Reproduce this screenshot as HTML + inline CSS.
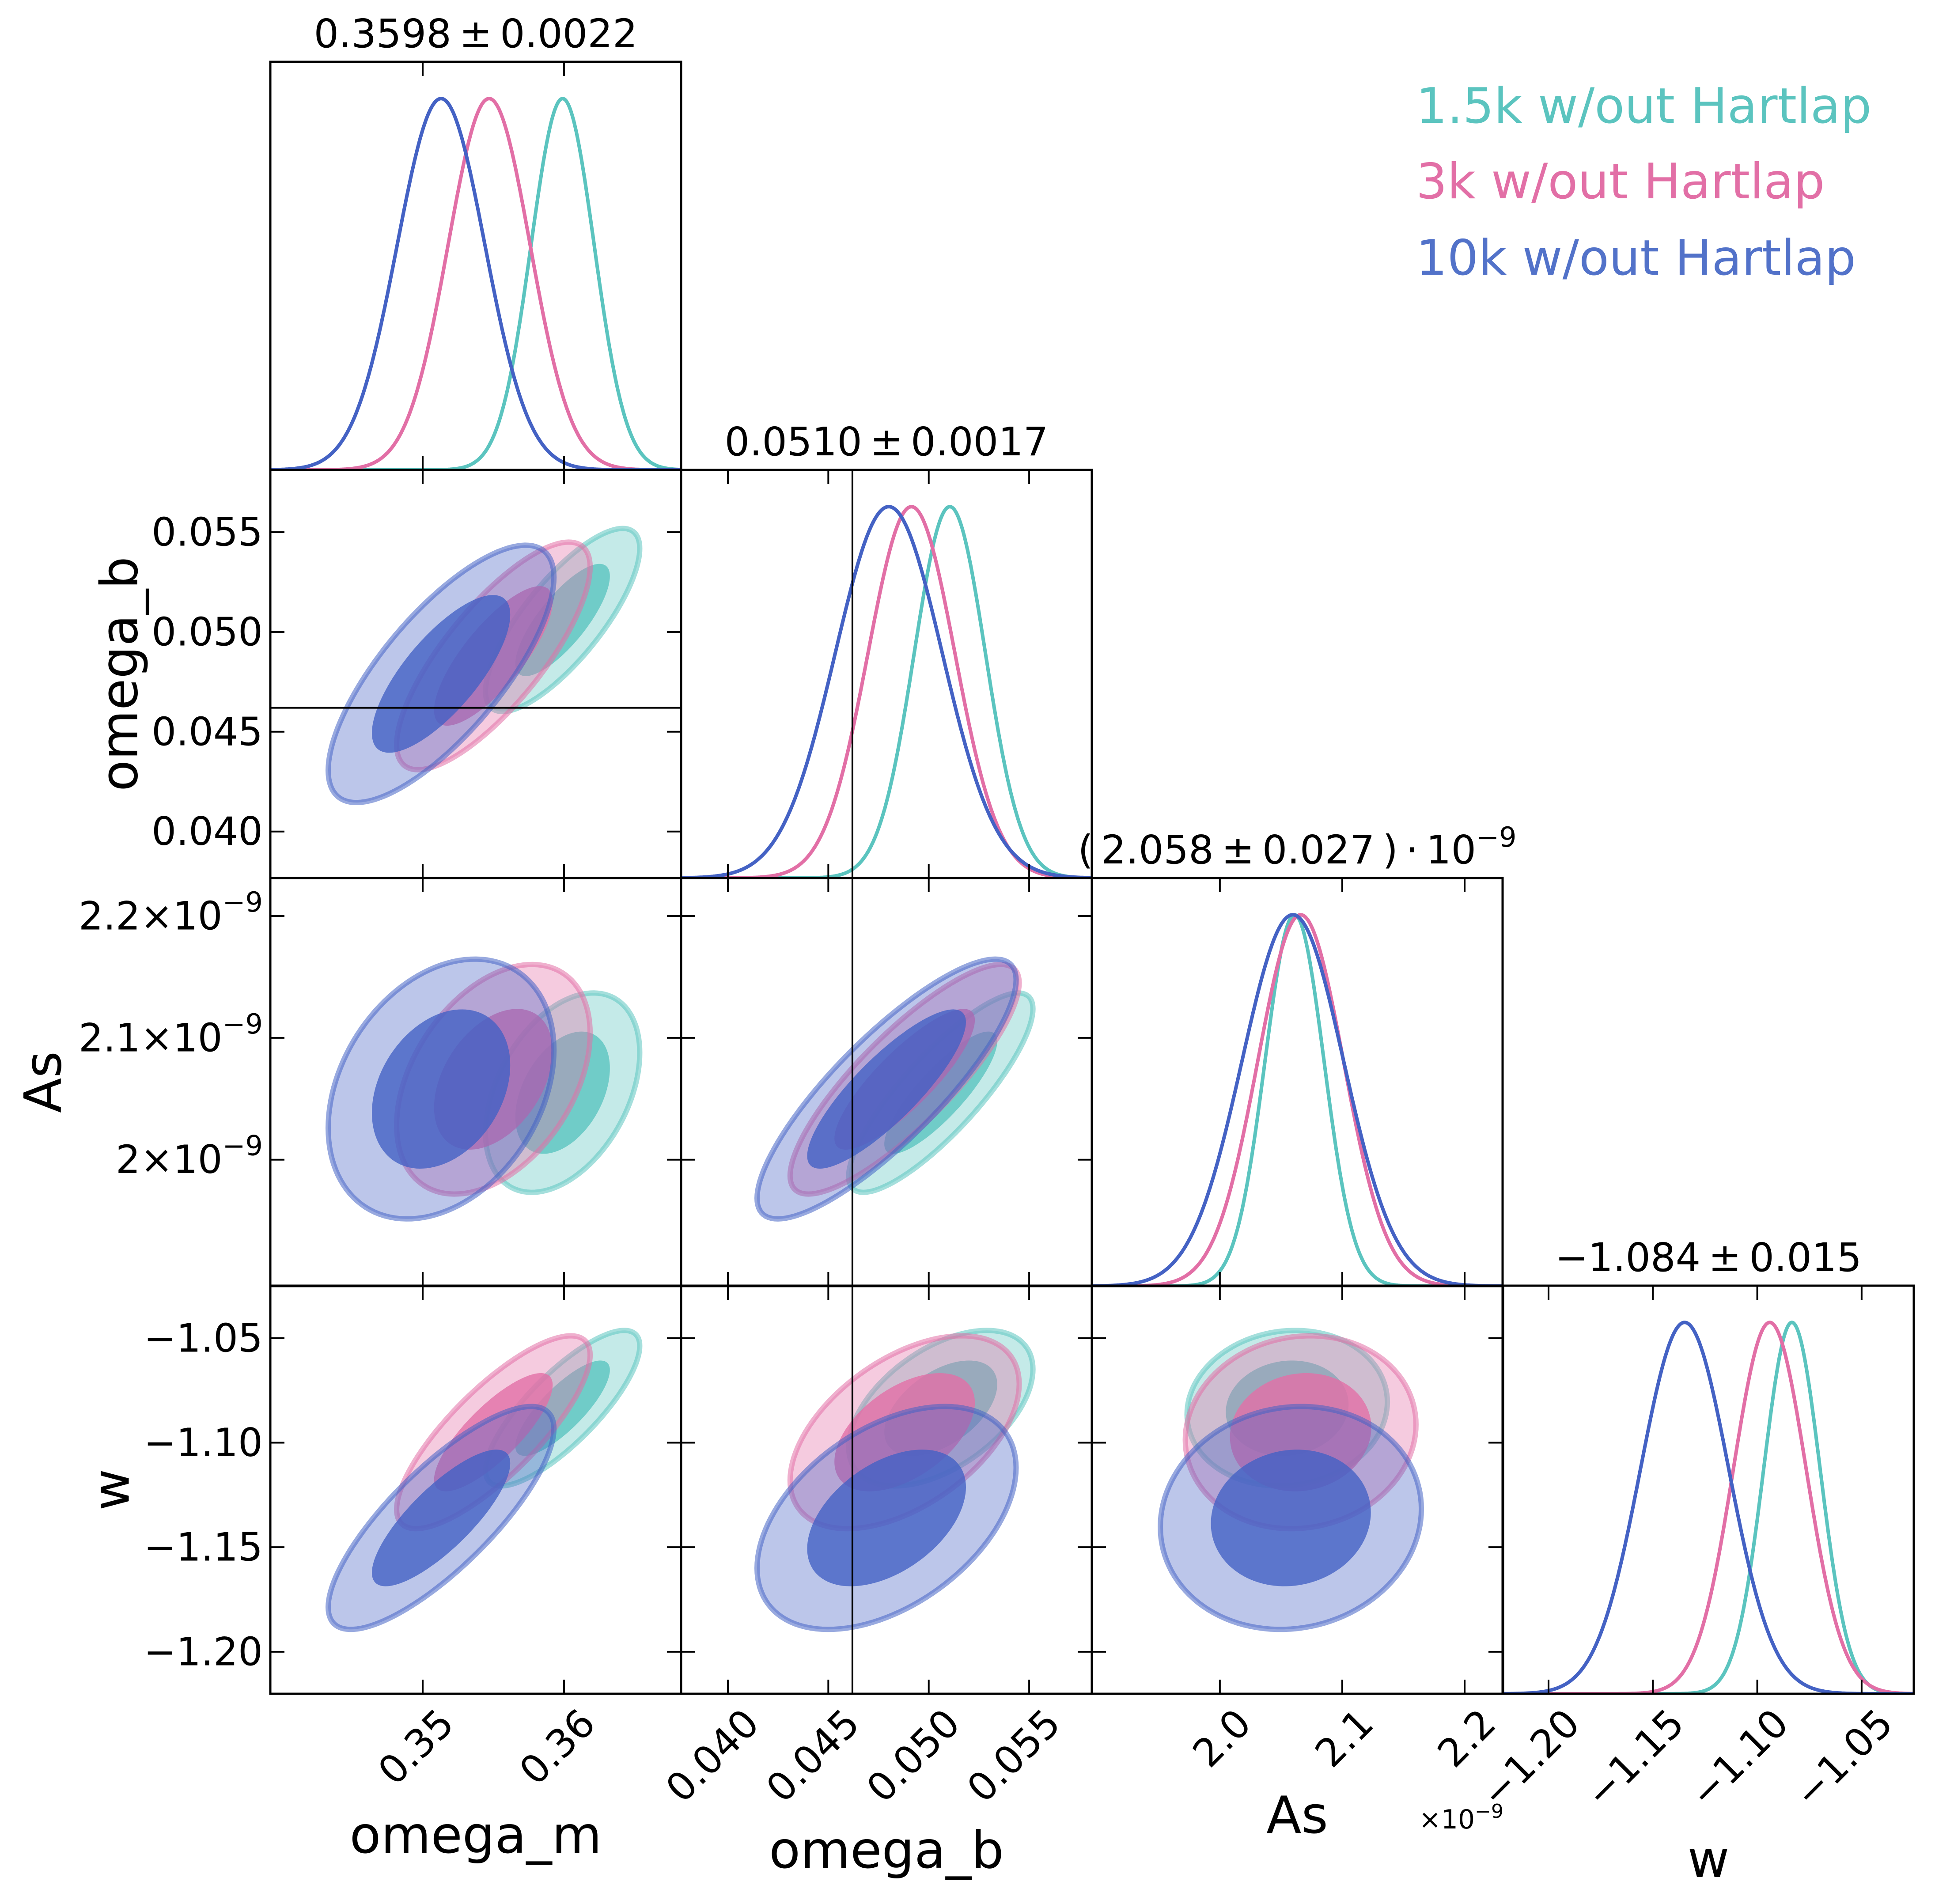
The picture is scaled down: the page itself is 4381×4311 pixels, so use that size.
<!DOCTYPE html>
<html><head><meta charset="utf-8"><title>Triangle plot</title>
<style>html,body{margin:0;padding:0;background:#fff}svg{display:block}text{font-family:"DejaVu Sans","Liberation Sans",sans-serif;fill:#000}</style>
</head><body>
<svg id="chart" xmlns="http://www.w3.org/2000/svg" width="4381" height="4311" viewBox="0 0 4381 4311">
<rect x="0" y="0" width="4381" height="4311" fill="#fff"/>
<g id="panels"></g>
<g id="labels"></g>
<g id="legend">
<text x="3206" y="278" font-size="111" style="fill:#5bc4bf">1.5k w/out Hartlap</text>
<text x="3206" y="449" font-size="111" style="fill:#e26fa6">3k w/out Hartlap</text>
<text x="3206" y="622" font-size="111" style="fill:#5272c9">10k w/out Hartlap</text>
</g>
</svg>
<script>
// ---- data ----
const params = ['omega_m', 'omega_b', 'As', 'w'];
const seriesNames = ['1.5k w/out Hartlap', '3k w/out Hartlap', '10k w/out Hartlap'];
const mean1dTeal = [0.3599, 0.05105, 2.061, -1.0834];
const mean1dPink = [0.3547, 0.04914, 2.066, -1.0940];
const mean1dBlue = [0.3513, 0.04801, 2.0596, -1.1348];
const sigma1dTeal = [0.00223, 0.00177, 0.0241, 0.0135];
const sigma1dPink = [0.0029, 0.00216, 0.035, 0.0174];
const sigma1dBlue = [0.0031, 0.00266, 0.0415, 0.0211];
const mean2dTeal = [0.3599, 0.0506, 2.055, -1.0835];
const mean2dPink = [0.3550, 0.0488, 2.066, -1.095];
const mean2dBlue = [0.3513, 0.0479, 2.058, -1.136];
const sigma2dTeal = [0.0022, 0.00185, 0.033, 0.0150];
const sigma2dPink = [0.00276, 0.0023, 0.038, 0.0186];
const sigma2dBlue = [0.00322, 0.0026, 0.043, 0.0215];
// correlations for pairs (1,0),(2,0),(2,1),(3,0),(3,1),(3,2)
const corrTeal = [0.78, 0.4, 0.84, 0.8, 0.5, 0.08];
const corrPink = [0.78, 0.4, 0.84, 0.8, 0.5, 0.08];
const corrBlue = [0.75, 0.3, 0.84, 0.8, 0.45, 0.08];
const xTickValues = [[0.35, 0.36], [0.040, 0.045, 0.050, 0.055], [2.0, 2.1, 2.2], [-1.20, -1.15, -1.10, -1.05]];
const xTickLabels = [['0.35', '0.36'], ['0.040', '0.045', '0.050', '0.055'], ['2.0', '2.1', '2.2'], ['\u22121.20', '\u22121.15', '\u22121.10', '\u22121.05']];
const yTickLabels = [['0.035', '0.040', '0.045', '0.050', '0.055'], ['2\u00d710', '2.1\u00d710', '2.2\u00d710'], ['\u22121.20', '\u22121.15', '\u22121.10', '\u22121.05']];
const titles = ['0.3598\u2009\u00b1\u20090.0022', '0.0510\u2009\u00b1\u20090.0017', '(\u20092.058\u2009\u00b1\u20090.027\u2009)\u2009\u00b7\u200910', '\u22121.084\u2009\u00b1\u20090.015'];
const refOmegaB = [0.0462];

// ---- layout ----
const colors = ['#5bc4bf', '#e26fa6', '#4462c4'];
const limsX = [[0.33922, 0.36828], [0.03767, 0.05812], [1.8954, 2.231], [-1.2218, -1.0250]];
const limsY = [[0.33922, 0.36828], [0.03767, 0.05812], [1.8962, 2.2312], [-1.2201, -1.0249]];
const colX = [612, 1542, 2472, 3403];
const rowY = [140, 1064, 1988, 2911];
const PW = 930, PH = 924;
const NS = 'http://www.w3.org/2000/svg';
const means1d = [mean1dTeal, mean1dPink, mean1dBlue];
const sig1d = [sigma1dTeal, sigma1dPink, sigma1dBlue];
const means2d = [mean2dTeal, mean2dPink, mean2dBlue];
const sig2d = [sigma2dTeal, sigma2dPink, sigma2dBlue];
const corrs = [corrTeal, corrPink, corrBlue];
const pairIndex = {'1,0': 0, '2,0': 1, '2,1': 2, '3,0': 3, '3,1': 4, '3,2': 5};

function sx(i, v) { return colX[i] + (v - limsX[i][0]) / (limsX[i][1] - limsX[i][0]) * PW; }
function sy(j, v) { return rowY[j] + PH - (v - limsY[j][0]) / (limsY[j][1] - limsY[j][0]) * PH; }
function mk(tag, attrs, parent) {
  const e = document.createElementNS(NS, tag);
  for (const k in attrs) e.setAttribute(k, attrs[k]);
  parent.appendChild(e);
  return e;
}
const panelsG = document.getElementById('panels');
const labelsG = document.getElementById('labels');
const defs = mk('defs', {}, panelsG);

for (let j = 0; j < 4; j++) {
  for (let i = 0; i <= j; i++) {
    const g = mk('g', {}, panelsG);
    
    
    const cp = mk('clipPath', {id: 'cp' + j + i}, defs);
    mk('rect', {x: colX[i], y: rowY[j], width: PW, height: PH}, cp);
    const inner = mk('g', {'clip-path': 'url(#cp' + j + i + ')'}, g);
    if (i === j) {
      for (let s = 0; s < 3; s++) {
        let d = '';
        for (let k = 0; k <= 400; k++) {
          const v = limsX[i][0] + (limsX[i][1] - limsX[i][0]) * k / 400;
          const z = (v - means1d[s][i]) / sig1d[s][i];
          const y = rowY[j] + PH - 0.91 * PH * Math.exp(-0.5 * z * z);
          d += (k ? 'L' : 'M') + sx(i, v).toFixed(1) + ',' + y.toFixed(1);
        }
        const p = mk('path', {d: d, fill: 'none', stroke: colors[s], 'stroke-width': 8}, inner);
        
        
      }
    } else {
      const pi = pairIndex[j + ',' + i];
      for (let s = 0; s < 3; s++) {
        const rho = corrs[s][pi];
        const radii = [2.48, 1.52];
        for (let r = 0; r < 2; r++) {
          let d = '';
          for (let k = 0; k <= 120; k++) {
            const t = 2 * Math.PI * k / 120;
            const u = Math.cos(t), w = Math.sin(t);
            const vx = means2d[s][i] + sig2d[s][i] * radii[r] * u;
            const vy = means2d[s][j] + sig2d[s][j] * radii[r] * (rho * u + Math.sqrt(1 - rho * rho) * w);
            d += (k ? 'L' : 'M') + sx(i, vx).toFixed(1) + ',' + sy(j, vy).toFixed(1);
          }
          d += 'Z';
          const p = mk('path', r === 0 ?
            {d: d, fill: colors[s], 'fill-opacity': 0.36, stroke: colors[s], 'stroke-opacity': 0.55, 'stroke-width': 12} :
            {d: d, fill: colors[s], 'fill-opacity': 0.8, stroke: 'none'}, inner);
          
          
        }
      }
    }
    if (i === 1) {
      const x = sx(1, refOmegaB[0]);
      const l = mk('line', {x1: x, y1: rowY[j], x2: x, y2: rowY[j] + PH, stroke: '#000', 'stroke-width': 4}, g);
      
      
    }
    if (j === 1 && i === 0) {
      const y = sy(1, refOmegaB[0]);
      const l = mk('line', {x1: colX[0], y1: y, x2: colX[0] + PW, y2: y, stroke: '#000', 'stroke-width': 4}, g);
      
      
    }
    xTickValues[i].forEach(v => {
      const x = sx(i, v);
      mk('line', {x1: x, y1: rowY[j] + PH, x2: x, y2: rowY[j] + PH - 32, stroke: '#000', 'stroke-width': 4}, g);
      mk('line', {x1: x, y1: rowY[j], x2: x, y2: rowY[j] + 32, stroke: '#000', 'stroke-width': 4}, g);
    });
    if (i !== j) {
      xTickValues[j].forEach(v => {
        const y = sy(j, v);
        if (y < rowY[j] || y > rowY[j] + PH) return;
        mk('line', {x1: colX[i], y1: y, x2: colX[i] + 32, y2: y, stroke: '#000', 'stroke-width': 4}, g);
        mk('line', {x1: colX[i] + PW, y1: y, x2: colX[i] + PW - 32, y2: y, stroke: '#000', 'stroke-width': 4}, g);
      });
    }
    const fr = mk('rect', {x: colX[i], y: rowY[j], width: PW, height: PH, fill: 'none', stroke: '#000', 'stroke-width': 5}, g);
    
    
  }
}

for (let i = 0; i < 4; i++) {
  const t = mk('text', {x: colX[i] + PW / 2, y: rowY[i] - 33, 'text-anchor': 'middle', 'font-size': 89}, labelsG);
  t.textContent = titles[i];
  if (i === 2) {
    const sp = mk('tspan', {'font-size': 62, dy: -38}, t);
    sp.textContent = '\u22129';
  }
  
  
}
for (let i = 0; i < 4; i++) {
  xTickValues[i].forEach((v, k) => {
    const x = sx(i, v) + 54, y = 3835 + 51;
    const t = mk('text', {x: x, y: y, 'text-anchor': 'end', 'dominant-baseline': 'central', 'font-size': 88, transform: 'rotate(-45 ' + x + ' ' + y + ')'}, labelsG);
    t.textContent = xTickLabels[i][k];
    
    
  });
}
for (let j = 1; j < 4; j++) {
  const vals = j === 1 ? [0.035, 0.040, 0.045, 0.050, 0.055] : xTickValues[j];
  vals.forEach((v, k) => {
    const y = sy(j, v);
    if (y < rowY[j] || y > rowY[j] + PH) return;
    const t = mk('text', {x: 595, y: y, 'text-anchor': 'end', 'dominant-baseline': 'central', 'font-size': 88}, labelsG);
    t.textContent = yTickLabels[j - 1][k];
    if (j === 2) {
      const sp = mk('tspan', {'font-size': 62, dy: -32}, t);
      sp.textContent = '\u22129';
    }
    
    
  });
}
const xLabBase = [4195, 4229, 4150, 4250];
for (let i = 0; i < 4; i++) {
  const t = mk('text', {x: colX[i] + PW / 2, y: xLabBase[i], 'text-anchor': 'middle', 'font-size': 116}, labelsG);
  t.textContent = params[i];
  
  
}
const yLabX = [271, 98, 252];
for (let j = 1; j < 4; j++) {
  const cx = yLabX[j - 1], cy = rowY[j] + PH / 2;
  const t = mk('text', {x: cx, y: cy, 'text-anchor': 'middle', 'dominant-baseline': 'central', 'font-size': 116, transform: 'rotate(-90 ' + cx + ' ' + cy + ')'}, labelsG);
  t.textContent = params[j];
  
  
}
const off = mk('text', {x: 3404, y: 4140, 'text-anchor': 'end', 'font-size': 60}, labelsG);
off.textContent = '\u00d710';
const offs = mk('tspan', {'font-size': 44, dy: -24}, off);
offs.textContent = '\u22129';


</script>
</body></html>
